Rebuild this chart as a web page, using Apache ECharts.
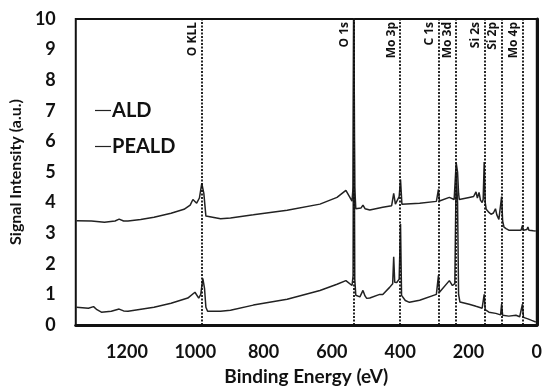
<!DOCTYPE html>
<html>
<head>
<meta charset="utf-8">
<script src="https://cdn.jsdelivr.net/npm/echarts@6/dist/echarts.min.js"></script>
<style>
  html, body { margin: 0; padding: 0; background: #fff; }
  #chart { width: 545px; height: 391px; }
</style>
</head>
<body>
<div id="chart"></div>
<script>
// XPS survey spectra: [binding energy (eV), signal intensity (a.u.)]
var aldSpectrum = [
  [1348,3.41],[1304,3.40],[1266,3.36],[1235,3.40],[1223,3.46],[1210,3.40],[1197,3.40],
  [1160,3.45],[1121,3.52],[1071,3.65],[1033,3.78],[1015,3.92],[1007,4.10],[996,3.98],
  [988,4.15],[981,4.63],[975,4.30],[969,3.56],[964,3.50],[926,3.47],[897,3.50],[830,3.60],
  [731,3.75],[635,3.95],[585,4.17],[559,4.40],[541,4.05],[538,4.50],[536,11],[533,4.50],
  [530,3.80],[515,3.82],[509,3.92],[503,3.80],[498,3.78],[489,3.76],[451,3.85],[425,3.90],
  [419,4.30],[414,3.95],[410,4.00],[403,4.20],[399,4.75],[395,3.95],[393,3.90],[343,3.98],
  [294,4.04],[291,4.05],[288,4.43],[285,4.05],[280,4.05],[256,4.17],[242,4.10],[239,4.15],
  [236,5.30],[232,5.00],[229,4.30],[227,4.10],[198,4.17],[185,4.20],[178,4.35],[174,4.15],
  [169,4.33],[165,4.08],[160,4.00],[157,4.10],[154,5.33],[151,4.00],[148,3.78],[140,3.68],
  [134,3.62],[127,3.66],[121,3.80],[117,3.60],[111,3.45],[106,3.40],[103,4.20],[100,3.40],
  [96,3.20],[90,3.15],[82,3.10],[60,3.10],[46,3.10],[42,3.25],[39,3.10],[29,3.12],
  [26,3.20],[23,3.10],[10,3.08],[3,3.07]
];

var pealdSpectrum = [
  [1348,0.58],[1313,0.55],[1298,0.60],[1288,0.50],[1275,0.42],[1246,0.45],[1223,0.52],
  [1210,0.46],[1197,0.45],[1121,0.58],[1071,0.71],[1022,0.88],[1001,1.07],[990,0.88],
  [984,1.00],[978,1.52],[973,1.20],[969,0.58],[964,0.45],[926,0.45],[897,0.48],[830,0.65],
  [731,0.84],[635,1.13],[585,1.33],[559,1.45],[541,1.29],[538,1.60],[536,11],[533,1.50],
  [530,0.97],[518,0.92],[509,1.13],[503,0.95],[498,0.87],[489,0.88],[460,1.00],[451,1.00],
  [431,1.23],[422,1.35],[419,2.23],[416,1.40],[410,1.39],[403,1.50],[399,3.30],[396,0.97],
  [385,0.80],[373,0.74],[343,0.81],[294,1.00],[291,1.02],[288,1.62],[285,1.07],[280,1.07],
  [256,1.45],[247,1.29],[240,1.35],[236,5.00],[232,4.00],[229,1.00],[225,0.75],[221,0.71],
  [198,0.68],[178,0.61],[160,0.55],[157,0.55],[154,1.00],[151,0.50],[140,0.42],[120,0.38],
  [106,0.33],[103,0.68],[100,0.32],[82,0.29],[61,0.32],[50,0.27],[45,0.28],[42,0.68],
  [39,0.25],[26,0.20],[15,0.15],[3,0.10]
];

// Reference peak positions (eV) and their names
var peakNames = ['O KLL', 'O 1s', 'Mo 3p', 'C 1s', 'Mo 3d', 'Si 2s', 'Si 2p', 'Mo 4p'];
var peakEnergies = [981, 536, 400, 288, 236, 153, 103, 42];

var seriesNames = ['ALD', 'PEALD'];
var xTicks = [0, 200, 400, 600, 800, 1000, 1200];
var yMin = 0, yMax = 10, xMax = 1350;

var font = 'Lato, "Open Sans", sans-serif';
var ink = '#111';

var peakLines = peakNames.map(function (name, i) {
  return [
    { coord: [peakEnergies[i], yMin], name: name },
    { coord: [peakEnergies[i], yMax] }
  ];
});

var chart = echarts.init(document.getElementById('chart'), null, { renderer: 'canvas' });
chart.setOption({
  animation: false,
  backgroundColor: '#fff',
  grid: {
    left: 75, right: 7, top: 19, bottom: 63,
    show: true, borderColor: ink, borderWidth: 2
  },
  legend: {
    orient: 'vertical',
    left: 90, top: 95,
    itemWidth: 16, itemHeight: 1.2, itemGap: 15,
    icon: 'rect',
    textStyle: {
      fontFamily: font, fontWeight: 'bold', fontSize: 20, color: ink, lineHeight: 21,
      padding: [0, 0, 0, -4]
    },
    data: seriesNames
  },
  xAxis: {
    type: 'value',
    inverse: true,
    min: 0, max: xMax, interval: 200,
    name: 'Binding Energy (eV)',
    nameLocation: 'middle',
    nameGap: 42,
    nameTextStyle: { fontFamily: font, fontWeight: 'bold', fontSize: 19, color: ink },
    axisLine: { lineStyle: { color: ink, width: 3 } },
    axisTick: { show: false },
    splitLine: { show: false },
    axisLabel: {
      margin: 18,
      fontFamily: font, fontWeight: 'bold', fontSize: 18, color: ink,
      formatter: function (v) { return xTicks.indexOf(v) >= 0 ? String(v) : ''; }
    }
  },
  yAxis: {
    type: 'value',
    min: yMin, max: yMax, interval: 1,
    name: 'Signal Intensity (a.u.)',
    nameLocation: 'middle',
    nameGap: 50,
    nameTextStyle: { fontFamily: font, fontWeight: 'bold', fontSize: 16, color: ink },
    axisLine: { show: true, lineStyle: { color: ink, width: 3 } },
    axisTick: { show: false },
    splitLine: { show: false },
    axisLabel: { margin: 20, fontFamily: font, fontWeight: 'bold', fontSize: 18, color: ink }
  },
  series: [
    {
      name: seriesNames[0],
      type: 'line',
      data: aldSpectrum,
      showSymbol: false,
      clip: true,
      lineStyle: { color: '#222', width: 1.5 },
      itemStyle: { color: '#222' },
      markLine: {
        silent: true,
        symbol: ['none', 'none'],
        lineStyle: { color: ink, width: 1.8, type: [2, 1.5] },
        label: {
          show: true,
          position: 'insideEndTop',
          distance: 3,
          formatter: '{b}',
          fontFamily: '"Open Sans", Lato, sans-serif', fontWeight: 700, fontSize: 12, color: ink
        },
        data: peakLines
      }
    },
    {
      name: seriesNames[1],
      type: 'line',
      data: pealdSpectrum,
      showSymbol: false,
      clip: true,
      lineStyle: { color: '#222', width: 1.5 },
      itemStyle: { color: '#222' }
    }
  ]
});
</script>
</body>
</html>
